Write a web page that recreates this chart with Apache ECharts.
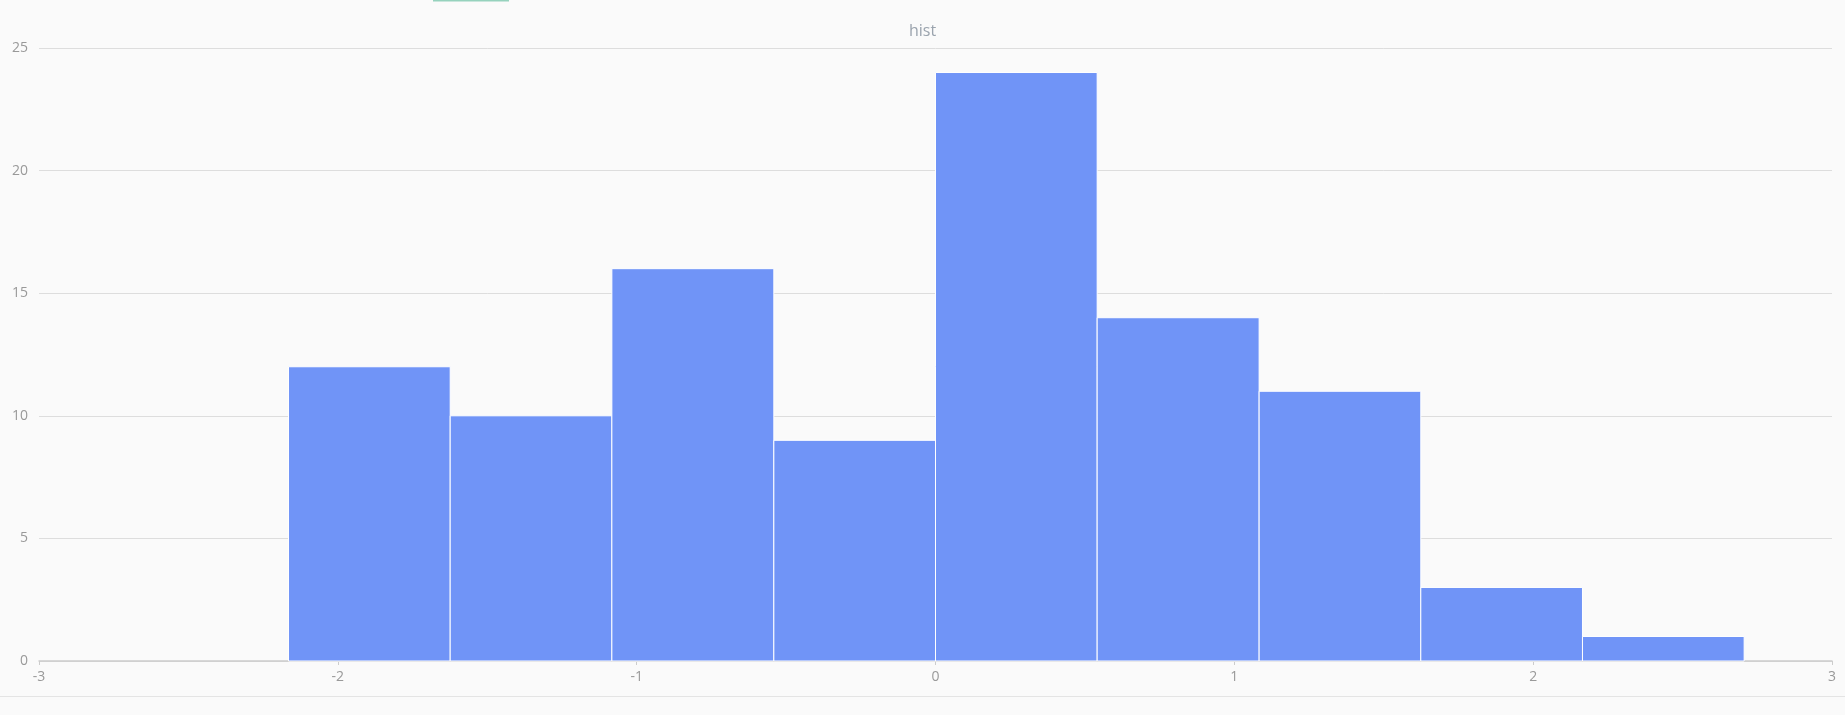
<!DOCTYPE html>
<html>
<head>
<meta charset="utf-8">
<script src="https://cdn.jsdelivr.net/npm/echarts@6/dist/echarts.min.js"></script>
<style>
html,body{margin:0;padding:0;background:#fafafa;}
#main{width:1845px;height:715px;}
</style>
</head>
<body>
<div id="main"></div>
<script>
const binEdges = [-2.165, -1.624, -1.083, -0.541, 0.0, 0.541, 1.083, 1.624, 2.165, 2.706];
const counts = [12, 10, 16, 9, 24, 14, 11, 3, 1];
const xTicks = [-3, -2, -1, 0, 1, 2, 3];
const yTicks = [0, 5, 10, 15, 20, 25];
const title = 'hist';

const data = counts.map((c, i) => [binEdges[i], binEdges[i + 1], c]);

const chart = echarts.init(document.getElementById('main'));
chart.setOption({
  backgroundColor: '#fafafa',
  animation: false,
  textStyle: { fontFamily: 'Open Sans, sans-serif' },
  title: {
    text: title, left: 'center', top: 18,
    textStyle: { color: '#9aa3ad', fontSize: 16, fontWeight: 'normal', fontFamily: 'Open Sans, sans-serif' }
  },
  grid: { left: 39, right: 13, top: 48, bottom: 54, containLabel: false },
  xAxis: {
    type: 'value', min: xTicks[0], max: xTicks[xTicks.length - 1], interval: 1,
    axisLine: { show: true, lineStyle: { color: '#cccccc', width: 1.5 } },
    axisTick: { show: true, length: 4, lineStyle: { color: '#cccccc' } },
    axisLabel: { color: '#999', fontSize: 14, margin: 9 },
    splitLine: { show: false }
  },
  yAxis: {
    type: 'value', min: yTicks[0], max: yTicks[yTicks.length - 1], interval: 5,
    axisLine: { show: false }, axisTick: { show: false },
    axisLabel: { color: '#999', fontSize: 14, margin: 11 },
    splitLine: { lineStyle: { color: '#dddddd' } }
  },
  graphic: [
    { type: 'rect', shape: { x: 433, y: 0, width: 76, height: 1.5 }, style: { fill: '#96d2bd' } },
    { type: 'rect', shape: { x: 0, y: 696, width: 1845, height: 1 }, style: { fill: '#e4e4e4' } }
  ],
  series: [{
    type: 'custom',
    name: title,
    data: data,
    encode: { x: [0, 1], y: 2 },
    renderItem: function (params, api) {
      const p0 = api.coord([api.value(0), 0]);
      const p1 = api.coord([api.value(1), api.value(2)]);
      return {
        type: 'rect',
        shape: { x: p0[0], y: p1[1], width: p1[0] - p0[0], height: p0[1] - p1[1] },
        style: { fill: '#7094f7', stroke: '#ffffff', lineWidth: 1 }
      };
    }
  }]
});
</script>
</body>
</html>
